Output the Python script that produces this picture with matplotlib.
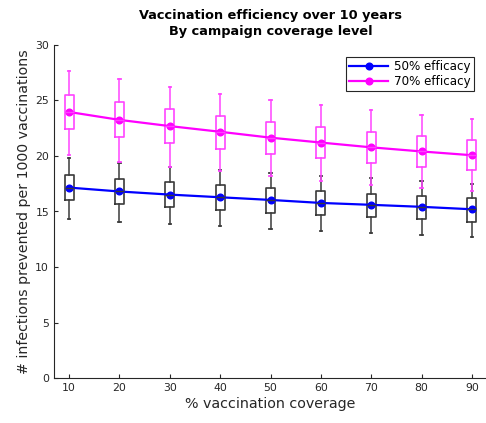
import matplotlib
matplotlib.use("Agg")
import matplotlib.pyplot as plt
import numpy as np

coverage = [10, 20, 30, 40, 50, 60, 70, 80, 90]

# 50% efficacy: mean line and box summaries
eff50_mean = [17.15, 16.8, 16.52, 16.28, 16.04, 15.77, 15.6, 15.42, 15.2]
eff50_q1 = [16.04, 15.71, 15.4, 15.13, 14.9, 14.73, 14.49, 14.3, 14.1]
eff50_q3 = [18.27, 17.95, 17.62, 17.35, 17.1, 16.85, 16.6, 16.4, 16.2]
eff50_lo = [14.34, 14.08, 13.87, 13.66, 13.45, 13.24, 13.08, 12.9, 12.7]
eff50_hi = [19.79, 19.4, 19.0, 18.7, 18.44, 18.21, 18.0, 17.77, 17.5]

# 70% efficacy
eff70_mean = [23.95, 23.24, 22.68, 22.17, 21.64, 21.2, 20.77, 20.4, 20.06]
eff70_q1 = [22.38, 21.72, 21.19, 20.65, 20.21, 19.79, 19.37, 19.04, 18.7]
eff70_q3 = [25.5, 24.82, 24.2, 23.6, 23.07, 22.62, 22.19, 21.8, 21.46]
eff70_lo = [20.06, 19.49, 19.02, 18.66, 18.21, 17.77, 17.41, 17.1, 16.85]
eff70_hi = [27.6, 26.88, 26.2, 25.6, 25.05, 24.6, 24.1, 23.72, 23.3]

axcol = "#262626"
plt.rcParams["font.family"] = "DejaVu Sans"

fig = plt.figure(figsize=(4.86, 4.23), dpi=100)
ax = fig.add_axes([54 / 486, 44.7 / 423, 433 / 486, 333.6 / 423])


def box_stats(q1, q3, lo, hi, mean):
    stats = []
    for a, b, c, d, m in zip(q1, q3, lo, hi, mean):
        stats.append({"q1": a, "q3": b, "whislo": c, "whishi": d, "med": m, "fliers": []})
    return stats


def draw_boxes(stats, color):
    ax.bxp(stats, positions=coverage, widths=1.8, showfliers=False,
           boxprops=dict(color=color, lw=1.2),
           whiskerprops=dict(color=color, lw=1.1),
           capprops=dict(color=color, lw=1.3),
           medianprops=dict(color=color, lw=1.0),
           capwidths=0.5, manage_ticks=False)


draw_boxes(box_stats(eff50_q1, eff50_q3, eff50_lo, eff50_hi, eff50_mean), "#3a3a3a")
draw_boxes(box_stats(eff70_q1, eff70_q3, eff70_lo, eff70_hi, eff70_mean), "#ff44ff")

ax.plot(coverage, eff50_mean, "-o", color="#0000ff", lw=1.6, ms=4.8, label="50% efficacy")
ax.plot(coverage, eff70_mean, "-o", color="#ff00ff", lw=1.6, ms=4.8, label="70% efficacy")

ax.set_xlim(7, 93)
ax.set_ylim(0, 30)
ax.set_xticks(coverage)
ax.set_yticks(np.arange(0, 31, 5))
ax.tick_params(direction="in", length=3, colors=axcol, labelsize=7.8, labelcolor=axcol)
for side in ["top", "right"]:
    ax.spines[side].set_visible(False)
for side in ["left", "bottom"]:
    ax.spines[side].set_color(axcol)
    ax.spines[side].set_linewidth(0.8)

ax.set_xlabel("% vaccination coverage", fontsize=10.3, color=axcol, labelpad=3)
ax.set_ylabel("# infections prevented per 1000 vaccinations", fontsize=10.2,
              color=axcol, labelpad=3)
ax.set_title("Vaccination efficiency over 10 years\nBy campaign coverage level",
             fontsize=9.3, fontweight="bold", color="black", linespacing=1.3, pad=7)

leg = ax.legend(loc="upper right", bbox_to_anchor=(0.97, 0.963), fontsize=8.6,
                fancybox=False, framealpha=1, edgecolor=axcol,
                handlelength=3.3, borderpad=0.25, labelspacing=0.15,
                handletextpad=0.5, borderaxespad=0)
leg.get_frame().set_linewidth(0.8)

fig.savefig("out.png", dpi=100)
